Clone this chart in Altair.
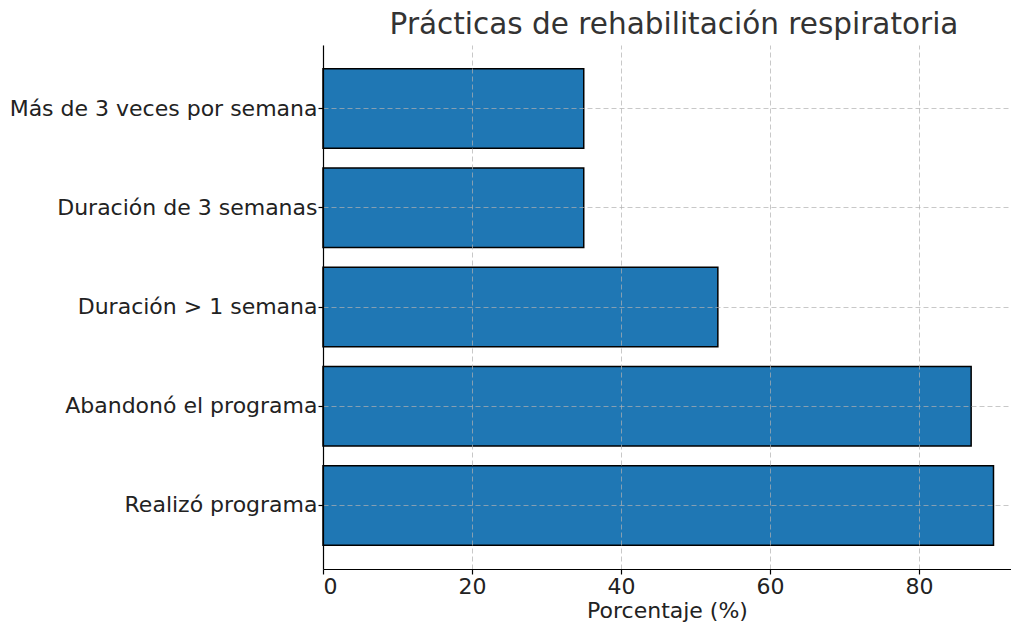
import altair as alt
import pandas as pd

categories = ["Más de 3 veces por semana", "Duración de 3 semanas", "Duración > 1 semana",
              "Abandonó el programa", "Realizó programa"]
values = [35, 35, 53, 87, 90]
x_ticks = [0, 20, 40, 60, 80]

df = pd.DataFrame({"Práctica": categories, "Porcentaje": values})

FONT = "DejaVu Sans"

bars = alt.Chart(df).mark_bar(
    color="#1f77b4", stroke="black", strokeWidth=1.5
).encode(
    x=alt.X("Porcentaje:Q",
            scale=alt.Scale(domain=[0, 92.35], nice=False, zero=True),
            axis=alt.Axis(values=x_ticks, title="Porcentaje (%)", format="d",
                          grid=True, gridDash=[5, 3], gridColor="#b0b0b0", gridOpacity=0.7,
                          gridWidth=1, zindex=1, domainColor="black", domainWidth=1.2,
                          tickColor="black", tickSize=5, tickWidth=1.2,
                          labelFontSize=22, labelFont=FONT, labelColor="#222",
                          labelPadding=2, titleFontSize=22, titleFont=FONT,
                          titleFontWeight="normal", titleColor="#222", titlePadding=3)),
    y=alt.Y("Práctica:N", sort=categories,
            scale=alt.Scale(paddingInner=0.2, paddingOuter=0.24),
            axis=alt.Axis(title=None, bandPosition=0.5,
                          grid=True, gridDash=[5, 3], gridColor="#b0b0b0", gridOpacity=0.7,
                          gridWidth=1, zindex=1, domainColor="black", domainWidth=1.2,
                          tickColor="black", tickSize=5, tickWidth=1.2,
                          labelFontSize=22, labelFont=FONT, labelColor="#222",
                          labelPadding=1, labelLimit=500)),
)

chart = bars.properties(
    width=688,
    height=524,
    title=alt.TitleParams("Prácticas de rehabilitación respiratoria", fontSize=29.5,
                          font=FONT, fontWeight="normal", color="#333", anchor="middle",
                          offset=5, dx=7),
    autosize=alt.AutoSizeParams(type="none"),
    padding={"left": 315, "top": 37, "right": 0, "bottom": 54},
).configure_view(stroke=None)

chart.save("out.html", embed_options={"renderer": "svg", "actions": False})
